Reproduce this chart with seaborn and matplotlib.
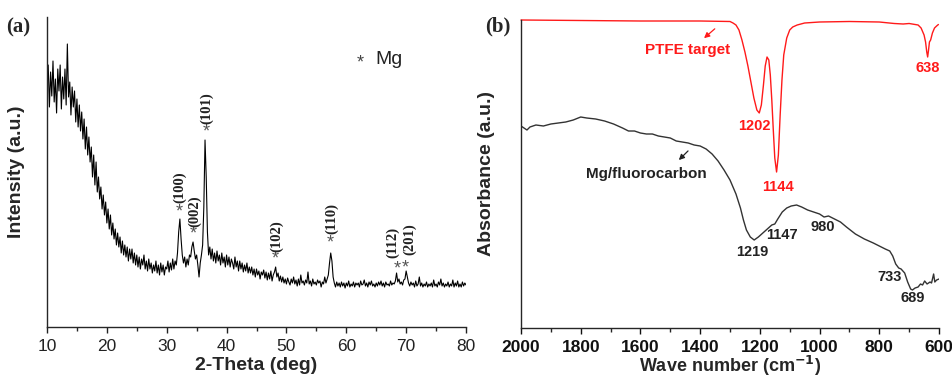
import numpy as np
import pandas as pd
import matplotlib
matplotlib.use("Agg")
import matplotlib.pyplot as plt
from matplotlib.ticker import MultipleLocator
import seaborn as sns

# ---------------- data: panel (a) XRD ----------------
two_theta_start = 10.0
two_theta_step = 0.2
xrd_intensity = [
    238, 262, 220, 255, 231,  # 10
    266, 225, 248, 214, 258,  # 11
    236, 262, 218, 250, 228,  # 12
    258, 222, 283, 230, 245,  # 13
    212, 240, 220, 236, 205,  # 14
    228, 200, 222, 196, 215,  # 15
    188, 208, 178, 200, 172,  # 16
    190, 165, 180, 150, 172,  # 17
    142, 165, 135, 150, 128,  # 18
    140, 118, 132, 112, 125,  # 19
    104, 118, 98, 112, 92,    # 20
    104, 88, 98, 82, 94,      # 21
    80, 90, 74, 86, 72,       # 22
    82, 70, 80, 66, 78,       # 23
    68, 78, 64, 74, 62,       # 24
    72, 60, 70, 58, 68,       # 25
    62, 72, 58, 66, 56,       # 26
    68, 58, 64, 54, 62,       # 27
    56, 66, 54, 62, 52,       # 28
    64, 55, 62, 52, 60,       # 29
    58, 66, 55, 64, 57,       # 30
    68, 58, 66, 62, 74,       # 31
    95, 108, 88, 72, 64,      # 32
    70, 60, 68, 62, 72,       # 33
    70, 80, 85, 76, 68,       # 34
    72, 62, 50, 64, 72,       # 35
    82, 120, 187, 150, 95,    # 36
    72, 80, 68, 78, 66,       # 37
    74, 64, 76, 66, 72,       # 38
    62, 74, 64, 70, 60,       # 39
    72, 62, 70, 60, 68,       # 40
    64, 58, 70, 60, 66,       # 41
    56, 66, 58, 64, 55,       # 42
    62, 56, 64, 54, 60,       # 43
    54, 60, 52, 58, 50,       # 44
    58, 52, 56, 48, 55,       # 45
    52, 57, 49, 55, 47,       # 46
    54, 48, 56, 46, 52,       # 47
    55, 60, 50, 54, 46,       # 48
    51, 45, 50, 44, 48,       # 49
    43, 49, 45, 42, 48,       # 50
    44, 50, 43, 47, 41,       # 51
    48, 42, 52, 44, 46,       # 52
    42, 47, 44, 55, 43,       # 53
    46, 41, 48, 43, 45,       # 54
    42, 47, 44, 46, 40,       # 55
    45, 43, 50, 44, 48,       # 56
    52, 64, 74, 66, 50,       # 57
    44, 40, 45, 41, 44,       # 58
    40, 45, 41, 44, 39,       # 59
    44, 41, 46, 40, 43,       # 60
    41, 45, 40, 44, 42,       # 61
    44, 40, 46, 42, 43,       # 62
    47, 41, 44, 40, 45,       # 63
    42, 46, 41, 43, 40,       # 64
    44, 41, 45, 42, 46,       # 65
    41, 44, 40, 45, 42,       # 66
    43, 41, 46, 42, 44,       # 67
    43, 46, 54, 45, 48,       # 68
    43, 45, 42, 47, 48,       # 69
    56, 50, 44, 41, 45,       # 70
    42, 44, 40, 46, 41,       # 71
    43, 50, 41, 44, 40,       # 72
    43, 41, 45, 40, 43,       # 73
    41, 44, 40, 47, 41,       # 74
    43, 40, 45, 42, 48,       # 75
    41, 44, 40, 43, 41,       # 76
    45, 40, 43, 41, 47,       # 77
    40, 44, 41, 46, 40,       # 78
    43, 40, 45, 41, 44,       # 79
    42,                       # 80
]
two_theta = [round(two_theta_start + i * two_theta_step, 2) for i in range(len(xrd_intensity))]

peak_labels = ["(100)", "(002)", "(101)", "(102)", "(110)", "(112)", "(201)"]

# ---------------- data: panel (b) FTIR ----------------
ptfe_wn = [2000, 1800, 1600, 1400, 1300, 1290, 1280, 1270, 1260, 1250, 1240, 1230,
           1220, 1210, 1202, 1195, 1188, 1182, 1176, 1170, 1165, 1160, 1155, 1150,
           1144, 1138, 1132, 1126, 1120, 1110, 1100, 1090, 1075, 1050, 1000, 900,
           800, 750, 720, 700, 670, 660, 650, 645, 641, 638, 635, 632, 628, 622,
           615, 608, 602]
ptfe_abs = [308, 307.5, 307, 307, 306.5, 305, 303, 298, 288, 276, 262, 246,
            230, 218, 215, 223, 243, 262, 271, 268, 253, 228, 198, 170,
            156, 173, 213, 248, 273, 290, 298, 301, 303, 305, 306, 306.5,
            306, 304.5, 304, 304.5, 303, 300, 293, 286, 276, 271, 278, 286, 288, 295,
            300, 302, 303.5]

mg_wn = [2000, 1990, 1980, 1970, 1950, 1925, 1900, 1875, 1850, 1825, 1800, 1780,
         1750, 1720, 1690, 1660, 1640, 1620, 1600, 1580, 1560, 1540, 1520, 1500,
         1480, 1460, 1440, 1420, 1400, 1380, 1360, 1340, 1320, 1300, 1280, 1265,
         1255, 1245, 1232, 1219, 1205, 1190, 1175, 1160, 1150, 1140, 1125, 1110,
         1095, 1077, 1060, 1040, 1020, 1000, 985, 970, 950, 930, 910, 880, 850,
         820, 800, 780, 765, 755, 745, 735, 727, 715, 705, 695, 689, 680, 670,
         662, 655, 648, 640, 630, 625, 618, 614, 608, 600]
mg_abs = [202, 200, 198, 201, 203, 202, 204, 205, 206, 208, 211, 210,
          209, 207, 204, 200, 197, 197, 195, 194, 194, 192, 191, 190,
          187, 186, 185, 183, 182, 179, 174, 167, 158, 148, 134, 120,
          108, 98, 91, 88, 91, 95, 99, 103, 104, 109, 116, 120,
          122, 123, 121, 118, 116, 114, 111, 112, 109, 106, 101, 94, 89,
          85, 82, 79, 77, 72, 64, 60, 59, 55, 46, 39, 38, 40, 41,
          44, 43, 47, 44, 46, 45, 54, 46, 48, 49]

# ---------------- style ----------------
sns.set_style("ticks")
plt.rcParams["font.family"] = ["Liberation Sans", "DejaVu Sans"]
plt.rcParams["axes.linewidth"] = 1.0
plt.rcParams["xtick.major.size"] = 4.5
plt.rcParams["xtick.minor.size"] = 3
plt.rcParams["xtick.major.width"] = 1.0
plt.rcParams["xtick.minor.width"] = 1.0
plt.rcParams["xtick.direction"] = "out"

W, H = 953, 381
fig = plt.figure(figsize=(W / 100, H / 100), dpi=100)
ax1 = fig.add_axes([47 / W, 1 - 327 / H, (466 - 47) / W, (327 - 17) / H])
ax2 = fig.add_axes([521 / W, 1 - 328 / H, (939 - 521) / W, (328 - 20) / H])

# ---------------- panel (a) ----------------
df_a = pd.DataFrame({"two_theta": two_theta, "intensity": xrd_intensity})
sns.lineplot(data=df_a, x="two_theta", y="intensity", ax=ax1, color="black",
             lw=0.8, estimator=None)
ax1.set_xlim(10, 80)
ax1.set_ylim(0, 310)
ax1.set_yticks([])
ax1.xaxis.set_major_locator(MultipleLocator(10))
ax1.xaxis.set_minor_locator(MultipleLocator(5))
ax1.tick_params(axis="x", labelsize=12.5, colors="#222222", pad=4)
ax1.set_xlabel("2-Theta (deg)", fontsize=14, fontweight="bold")
ax1.set_ylabel("Intensity (a.u.)", fontsize=14, fontweight="bold")
ax1.xaxis.set_label_coords(0.5, -0.098)
ax1.yaxis.set_label_coords(-0.052, 0.5)
for s in ["top", "right"]:
    ax1.spines[s].set_visible(False)

# peak annotations: (star x, star y, label x, label y)
peak_pos = [(32.1, 115, 32.2, 140), (34.4, 93, 34.6, 116), (36.6, 195, 36.7, 219),
            (48.1, 68, 48.4, 91), (57.4, 84, 57.5, 108), (68.5, 58, 67.8, 85),
            (69.9, 59, 70.6, 88)]
for lab, (sx, sy, lx, ly) in zip(peak_labels, peak_pos):
    ax1.text(sx, sy, "*", ha="center", va="center", fontsize=13, color="#555555")
    ax1.text(lx, ly, lab, ha="center", va="center", rotation=90, fontsize=10.5,
             fontweight="bold", family=["Liberation Serif", "DejaVu Serif"], color="#222222")
ax1.text(62.3, 264, "*", ha="center", va="center", fontsize=13, color="#444444")
ax1.text(64.9, 267, "Mg", ha="left", va="center", fontsize=14, color="#222222")

# ---------------- panel (b) ----------------
df_p = pd.DataFrame({"wn": ptfe_wn, "abs": ptfe_abs})
df_m = pd.DataFrame({"wn": mg_wn, "abs": mg_abs})
red = "#FF1A1A"
sns.lineplot(data=df_p, x="wn", y="abs", ax=ax2, color=red, lw=1.0,
             estimator=None, sort=False, clip_on=False)
sns.lineplot(data=df_m, x="wn", y="abs", ax=ax2, color="#333333", lw=1.0,
             estimator=None, sort=False)
ax2.set_xlim(2000, 600)
ax2.set_ylim(0, 308)
ax2.set_yticks([])
ax2.xaxis.set_major_locator(MultipleLocator(200))
ax2.xaxis.set_minor_locator(MultipleLocator(100))
ax2.tick_params(axis="x", labelsize=12.5, colors="#111111", pad=4)
for t in ax2.get_xticklabels():
    t.set_fontweight("bold")
ax2.set_xlabel("Wave number (cm$^{\\mathbf{-1}}$)", fontsize=13, fontweight="bold")
ax2.set_ylabel("Absorbance (a.u.)", fontsize=14, fontweight="bold")
ax2.xaxis.set_label_coords(0.5, -0.085)
ax2.yaxis.set_label_coords(-0.062, 0.5)
for s in ["top", "right"]:
    ax2.spines[s].set_visible(False)

ax2.text(1441, 278, "PTFE target", ha="center", va="center", fontsize=11,
         fontweight="bold", color=red)
ax2.annotate("", xy=(1394, 288), xytext=(1344, 301),
             arrowprops=dict(arrowstyle="-|>", color=red, lw=0.9, mutation_scale=8))
ax2.text(1220, 202, "1202", ha="center", va="center", fontsize=10.5, fontweight="bold", color=red)
ax2.text(1139, 141, "1144", ha="center", va="center", fontsize=10.5, fontweight="bold", color=red)
ax2.text(637, 260, "638", ha="center", va="center", fontsize=10.5, fontweight="bold", color=red)

ax2.text(1581, 154, "Mg/fluorocarbon", ha="center", va="center", fontsize=11,
         fontweight="bold", color="#222222")
ax2.annotate("", xy=(1478, 166), xytext=(1434, 179),
             arrowprops=dict(arrowstyle="-|>", color="#222222", lw=0.9, mutation_scale=8))
for lab, x, y in [("1219", 1226, 76), ("1147", 1126, 93), ("980", 989, 101),
                  ("733", 764, 51), ("689", 687, 30)]:
    ax2.text(x, y, lab, ha="center", va="center", fontsize=10.5, fontweight="bold",
             color="#222222")

# panel letters
fig.text(6 / W, 1 - 27 / H, "(a)", ha="left", va="center", fontsize=15,
         fontweight="bold", family=["Liberation Serif", "DejaVu Serif"])
fig.text(485 / W, 1 - 26 / H, "(b)", ha="left", va="center", fontsize=15,
         fontweight="bold", family=["Liberation Serif", "DejaVu Serif"])

fig.savefig("out.png", dpi=100)
